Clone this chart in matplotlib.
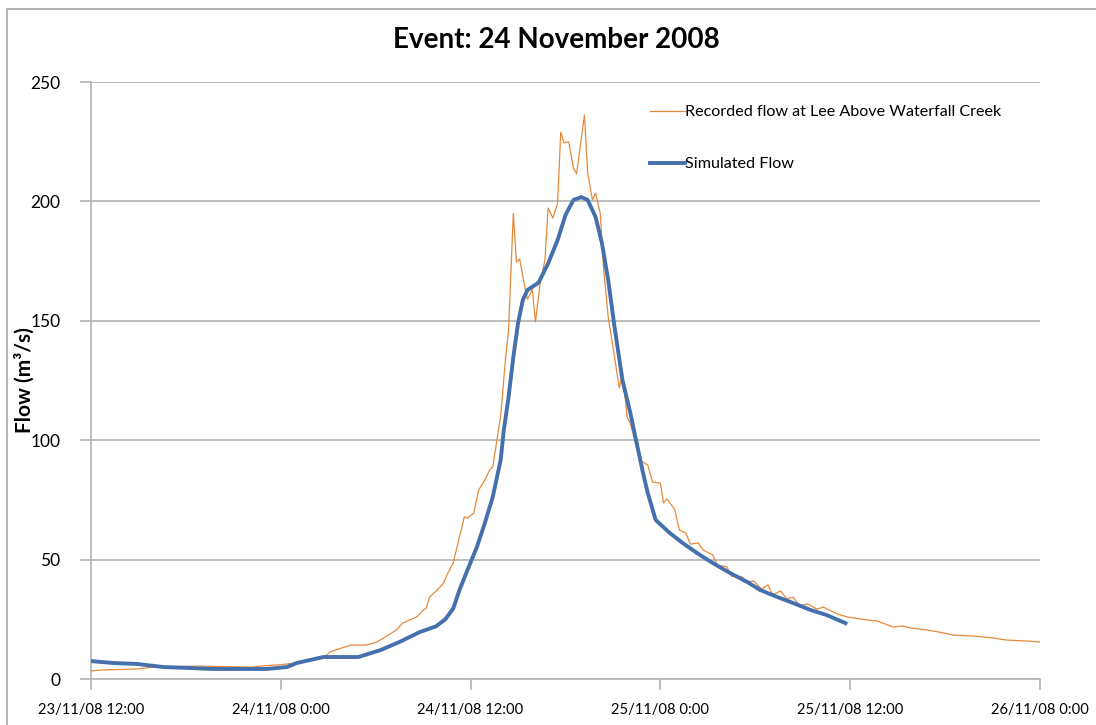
import matplotlib
matplotlib.use("Agg")
import matplotlib.pyplot as plt
from matplotlib.patches import Rectangle

# Hours after 23/11/08 12:00 and recorded flow (m3/s)
recorded_hours = [0.0, 0.76, 2.9, 3.9, 6.7, 10.2, 10.7, 12.0, 13.0, 14.9, 15.1, 16.4, 17.4,
                  18.1, 19.3, 19.7, 20.6, 21.0, 21.2, 21.4, 21.9, 22.3, 22.5, 22.9, 23.6,
                  23.8, 24.2, 24.5, 24.9, 25.2, 25.4, 25.9, 26.2, 26.4, 26.7, 26.9, 27.1,
                  27.5, 27.6, 27.9, 28.1, 28.4, 28.7, 28.9, 29.2, 29.5, 29.7, 29.9, 30.2,
                  30.5, 30.7, 31.2, 31.4, 31.7, 31.9, 32.2, 32.4, 32.7, 33.1, 33.4, 33.6,
                  33.9, 34.1, 34.7, 35.2, 35.5, 36.0, 36.2, 36.4, 36.9, 37.2, 37.6, 37.9,
                  38.4, 38.7, 39.3, 39.6, 40.2, 40.5, 41.2, 41.3, 41.9, 42.4, 42.8, 43.1,
                  43.6, 44.0, 44.4, 44.8, 45.3, 45.9, 46.3, 47.2, 47.8, 49.1, 49.7, 50.7,
                  51.3, 51.8, 52.9, 53.9, 54.5, 55.8, 57.0, 57.9, 59.2, 60.0]
recorded_flow = [3.4, 3.8, 4.2, 5.0, 5.4, 5.0, 5.4, 6.0, 6.7, 10.0, 11.3, 14.2, 14.2,
                 15.5, 20.5, 23.4, 26.0, 28.9, 29.7, 34.3, 37.3, 40.2, 43.5, 48.6, 67.8,
                 67.4, 69.5, 79.0, 83.3, 87.5, 88.8, 110.0, 133.6, 146.0, 195.0, 174.6, 175.9,
                 161.6, 159.0, 163.0, 149.5, 165.8, 175.5, 197.2, 193.0, 199.3, 229.0, 224.5, 225.0,
                 214.0, 211.5, 236.2, 212.0, 200.6, 203.5, 195.0, 172.5, 151.6, 134.8, 121.9, 128.0,
                 109.7, 107.0, 91.7, 89.6, 82.5, 82.0, 73.7, 75.4, 71.2, 62.4, 61.1, 56.5,
                 57.0, 54.0, 52.0, 47.7, 47.0, 43.0, 42.7, 40.6, 41.0, 37.7, 39.4, 35.2,
                 36.9, 33.5, 34.3, 30.6, 31.4, 29.3, 30.1, 27.2, 26.0, 24.7, 24.3, 21.8,
                 22.2, 21.4, 20.5, 19.3, 18.4, 18.0, 17.2, 16.3, 15.9, 15.5]

# Hours after 23/11/08 12:00 and simulated flow (m3/s)
simulated_hours = [0.0, 1.4, 2.9, 4.6, 6.3, 7.7, 11.1, 12.4, 13.0, 14.7, 16.9, 18.3, 19.5,
                   20.8, 21.8, 22.4, 22.9, 23.3, 23.8, 24.4, 24.9, 25.4, 25.9, 26.1, 26.4,
                   26.7, 27.0, 27.3, 27.6, 28.3, 28.9, 29.5, 30.0, 30.5, 31.0, 31.4, 31.9,
                   32.3, 32.7, 33.1, 33.6, 34.1, 34.5, 34.9, 35.2, 35.7, 36.6, 37.4, 38.3,
                   39.3, 40.4, 41.5, 42.3, 43.4, 44.4, 45.5, 46.5, 47.7]
simulated_flow = [7.5, 6.7, 6.3, 5.0, 4.6, 4.2, 4.2, 5.0, 6.7, 9.2, 9.2, 12.1, 15.5,
                  19.7, 22.0, 25.0, 29.5, 37.3, 45.6, 55.3, 65.3, 76.2, 91.7, 104.3, 118.0,
                  134.8, 149.0, 158.7, 162.9, 166.0, 174.0, 183.8, 194.3, 200.6, 201.8, 200.6,
                  193.5, 182.6, 167.0, 147.4, 125.2, 111.4, 98.8, 86.3, 77.9, 66.6, 61.1, 57.0,
                  52.8, 48.6, 44.4, 40.6, 37.3, 34.3, 31.8, 28.9, 26.8, 23.4]

tick_hours = [0, 12, 24, 36, 48, 60]
tick_labels = ["23/11/08 12:00", "24/11/08 0:00", "24/11/08 12:00",
               "25/11/08 0:00", "25/11/08 12:00", "26/11/08 0:00"]
y_ticks = [0, 50, 100, 150, 200, 250]

FONT = ["Lato", "DejaVu Sans"]
plt.rcParams["font.family"] = FONT
GRID = "#b3b3b3"

fig = plt.figure(figsize=(10.96, 7.25), dpi=100)
fig.patches.append(Rectangle((7 / 1096, -0.05), 1.2, 1 - 9 / 725 + 0.05,
                             transform=fig.transFigure, fill=False,
                             edgecolor="#a6a6a6", linewidth=1.2))

ax = fig.add_axes([91 / 1096, 1 - 679 / 725, (1040 - 91) / 1096, (679 - 82) / 725])

ax.plot(recorded_hours, recorded_flow, color="#e8893a", linewidth=0.9,
        label="Recorded flow at Lee Above Waterfall Creek", zorder=3)
ax.plot(simulated_hours, simulated_flow, color="#4470ad", linewidth=2.8,
        solid_joinstyle="round", label="Simulated Flow", zorder=4)

ax.set_xlim(0, 60)
ax.set_ylim(0, 250)
ax.set_xticks(tick_hours)
ax.set_xticklabels(tick_labels)
ax.set_yticks(y_ticks)
ax.yaxis.grid(True, color=GRID, linewidth=1.2)
ax.set_axisbelow(True)

for side in ("top", "right"):
    ax.spines[side].set_visible(False)
for side in ("left", "bottom"):
    ax.spines[side].set_color(GRID)
    ax.spines[side].set_linewidth(1.2)

ax.tick_params(axis="y", length=8, width=1.2, color=GRID, labelsize=12.5, pad=14)
ax.tick_params(axis="x", length=8, width=1.2, color=GRID, labelsize=10.6, pad=9)

ax.set_ylabel("Flow (m³/s)", fontsize=15, fontweight="bold")
ax.yaxis.set_label_coords((35 - 91) / 949, 0.5)
fig.text(556 / 1096, 1 - 40 / 725, "Event: 24 November 2008", ha="center", va="center",
         fontsize=20, fontweight="bold")

ax.legend(loc="upper left", bbox_to_anchor=(650 / 1096, 1 - 105 / 725),
          bbox_transform=fig.transFigure, frameon=False, fontsize=11.6,
          handlelength=2.2, handletextpad=0.0, labelspacing=2.35,
          borderpad=0, borderaxespad=0)

fig.savefig("out.png", dpi=100)
